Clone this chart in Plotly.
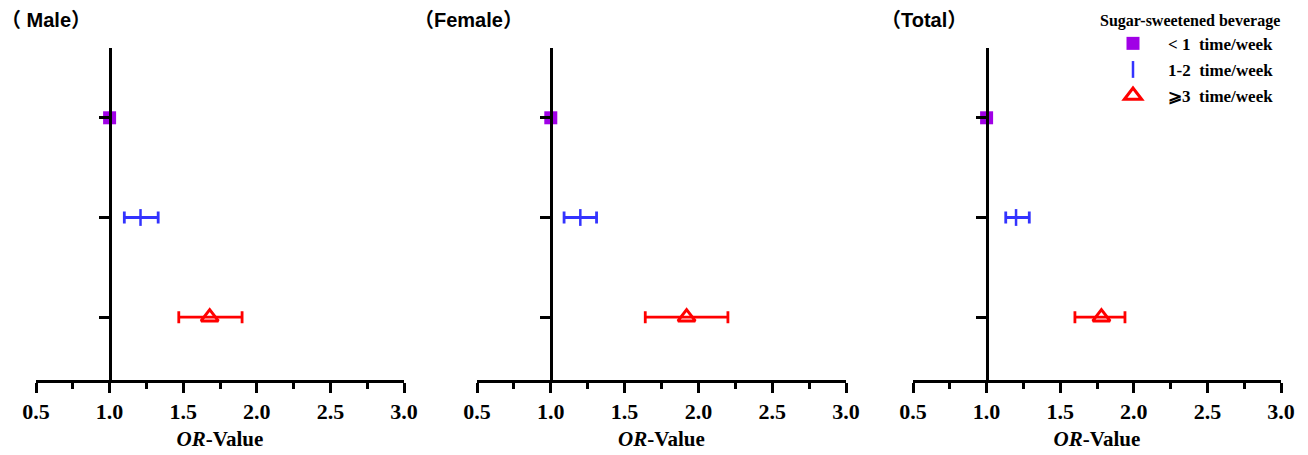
import plotly.graph_objects as go

# ---- data ----
panels = ["（\u00a0Male）", "（Female）", "（Total）"]
categories = ["< 1  time/week", "1-2  time/week", "⩾3  time/week"]
or_lt1 = [1.0, 1.0, 1.0]
lo_lt1 = [1.0, 1.0, 1.0]
hi_lt1 = [1.0, 1.0, 1.0]
or_12 = [1.21, 1.20, 1.20]
lo_12 = [1.10, 1.09, 1.13]
hi_12 = [1.33, 1.31, 1.29]
or_ge3 = [1.68, 1.92, 1.78]
lo_ge3 = [1.47, 1.64, 1.60]
hi_ge3 = [1.90, 2.20, 1.94]
x_ticks = [0.5, 1.0, 1.5, 2.0, 2.5, 3.0]
legend_title = "Sugar-sweetened beverage"

series = [
    (or_lt1, lo_lt1, hi_lt1),
    (or_12, lo_12, hi_12),
    (or_ge3, lo_ge3, hi_ge3),
]
colors = ["#A000E6", "#3333FF", "#FF0000"]
markers = [
    dict(symbol="square", size=13, color=colors[0], line=dict(width=0)),
    dict(symbol="line-ns-open", size=12, color=colors[1], line=dict(width=2.5, color=colors[1])),
    dict(symbol="triangle-up-open", size=15, color=colors[2], line=dict(width=3, color=colors[2])),
]

W, H = 1308, 455
MT, MB = 48, 75
px_domains = [(36, 404), (477, 846), (913, 1281)]
xr = [0.5, 3.0]
plot_h = H - MT - MB

def py(ypix):
    return (H - MB - ypix) / plot_h

fig = go.Figure()
serif = "Liberation Serif, Times New Roman, serif"

for p in range(3):
    xa = "x" if p == 0 else f"x{p+1}"
    ya = "y" if p == 0 else f"y{p+1}"
    for c, (vals, lows, highs) in enumerate(series):
        v, lo, hi = vals[p], lows[p], highs[p]
        ypos = len(categories) - c
        has_err = hi > lo
        fig.add_trace(go.Scatter(
            x=[v], y=[ypos], xaxis=xa, yaxis=ya, mode="markers",
            marker=markers[c], name=categories[c],
            legendgroup=categories[c], showlegend=(p == 0),
            error_x=dict(type="data", array=[hi - v], arrayminus=[v - lo],
                         visible=has_err, color=colors[c], thickness=2.8, width=6),
            hoverinfo="skip",
        ))

    d0, d1 = px_domains[p][0] / W, px_domains[p][1] / W
    pos = d0 + (1.0 - xr[0]) / (xr[1] - xr[0]) * (d1 - d0)
    xkey = "xaxis" if p == 0 else f"xaxis{p+1}"
    ykey = "yaxis" if p == 0 else f"yaxis{p+1}"
    fig.layout[xkey] = dict(
        domain=[d0, d1], range=xr, anchor=ya, showgrid=False, zeroline=False,
        showline=True, linewidth=3, linecolor="black", automargin=False,
        ticks="outside", ticklen=10, tickwidth=3, tickcolor="black",
        tickvals=x_ticks, ticktext=[f"{t:.1f}" for t in x_ticks],
        tickfont=dict(family=serif, size=22, color="black", weight="bold"),
        minor=dict(dtick=0.25, tick0=0.5, ticks="outside", ticklen=6, tickwidth=3,
                   tickcolor="black", showgrid=False),
        title=dict(text="<i>OR</i>-Value", standoff=8,
                   font=dict(family=serif, size=21, color="black", weight="bold")),
    )
    fig.layout[ykey] = dict(
        domain=[0, 1], range=[0.37, 3.70], anchor="free", position=pos,
        showgrid=False, zeroline=False, showline=True, linewidth=3, linecolor="black",
        ticks="outside", ticklen=10, tickwidth=3, tickcolor="black", automargin=False,
        tickvals=[1, 2, 3], showticklabels=False,
    )

title_x = [-1, 412, 879]
for p in range(3):
    fig.add_annotation(
        x=title_x[p] / W, y=py(20), xref="paper", yref="paper", text=panels[p],
        showarrow=False, xanchor="left", yanchor="middle",
        font=dict(family="Liberation Sans, Noto Sans CJK SC, Arial, sans-serif",
                  size=20, color="black", weight="bold"),
    )

fig.update_layout(
    width=W, height=H,
    margin=dict(l=0, r=0, t=MT, b=MB, autoexpand=False),
    plot_bgcolor="white", paper_bgcolor="white",
    showlegend=True,
    legend=dict(
        x=1098 / W, y=py(5), xanchor="left", yanchor="top",
        xref="paper", yref="paper",
        title=dict(text=legend_title, side="top",
                   font=dict(family=serif, size=16, color="black", weight="bold")),
        font=dict(family=serif, size=17, color="black", weight="bold"),
        bgcolor="rgba(0,0,0,0)", itemwidth=60, tracegroupgap=1,
        traceorder="grouped",
    ),
)

fig.write_html(
    "out.html",
    config={"displayModeBar": False},
    post_script="document.body.style.margin='0px';document.body.style.overflow='hidden';",
)
